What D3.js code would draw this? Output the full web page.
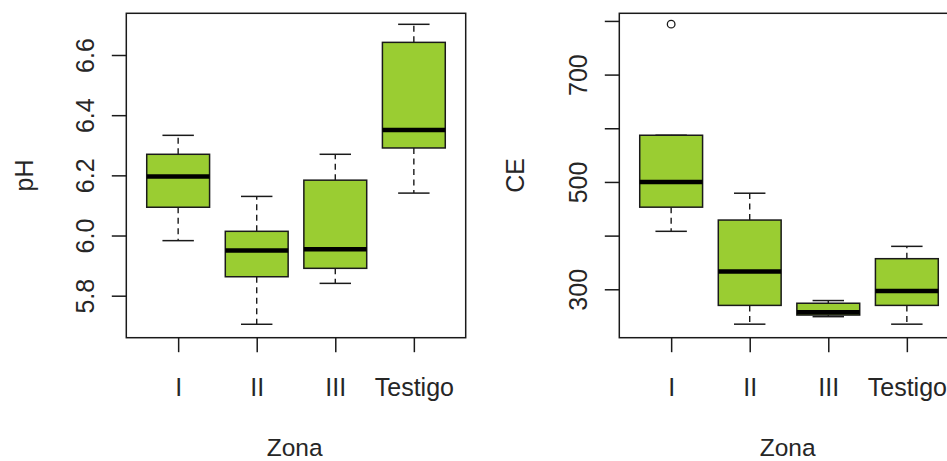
<!DOCTYPE html>
<html>
<head>
<meta charset="utf-8">
<script src="https://cdn.jsdelivr.net/npm/d3@7"></script>
<style>
  html, body { margin: 0; padding: 0; background: #fff; }
  svg { display: block; }
  text { font-family: "Liberation Sans", Arial, sans-serif; fill: #262626; }
</style>
</head>
<body>
<svg id="chart" width="947" height="461"></svg>
<script>
// ---- data ----
const categories = ["I", "II", "III", "Testigo"];

const phLow    = [5.983, 5.705, 5.841, 6.141];
const phQ1     = [6.094, 5.863, 5.891, 6.291];
const phMedian = [6.196, 5.950, 5.954, 6.351];
const phQ3     = [6.270, 6.014, 6.184, 6.642];
const phHigh   = [6.333, 6.130, 6.270, 6.702];
const phOutliers = [[], [], [], []];
const phTicks = [5.8, 6.0, 6.2, 6.4, 6.6];
const phTickLabels = ["5.8", "6.0", "6.2", "6.4", "6.6"];

const ceLow    = [408, 235, 249, 235];
const ceQ1     = [453, 270, 252, 270];
const ceMedian = [500, 333, 257, 297];
const ceQ3     = [587, 429, 274, 357];
const ceHigh   = [587, 479, 279, 380];
const ceOutliers = [[794], [], [], []];
const ceTicks = [300, 400, 500, 600, 700, 800];
const ceTickLabels = ["300", "", "500", "", "700", ""];

const xTitle = "Zona";

// ---- drawing ----
const svg = d3.select("#chart");
svg.append("rect").attr("width", 947).attr("height", 461).attr("fill", "#fff");

const FONT = 25;
const STROKE = "#1a1a1a";
const TEXTC = "#262626";
const FILL = "#9ACD32";

function panel(opt) {
  const g = svg.append("g");
  const x = d3.scalePoint().domain(categories).range([opt.left, opt.right]).padding(0.66);
  const y = d3.scaleLinear().domain(opt.domain).range([opt.bottom, opt.top]);
  const step = x.step();
  const bw = step * 0.8;
  const cap = bw * 0.5;

  const stats = categories.map((c, i) => ({
    c, low: opt.low[i], q1: opt.q1[i], med: opt.med[i], q3: opt.q3[i], high: opt.high[i], out: opt.out[i]
  }));

  const box = g.selectAll("g.box").data(stats).enter().append("g");
  // whiskers (dashed)
  box.append("line")
    .attr("x1", d => x(d.c)).attr("x2", d => x(d.c))
    .attr("y1", d => y(d.q3)).attr("y2", d => y(d.high))
    .attr("stroke", STROKE).attr("stroke-width", 1.4).attr("stroke-dasharray", "6,4.5");
  box.append("line")
    .attr("x1", d => x(d.c)).attr("x2", d => x(d.c))
    .attr("y1", d => y(d.q1)).attr("y2", d => y(d.low))
    .attr("stroke", STROKE).attr("stroke-width", 1.4).attr("stroke-dasharray", "6,4.5");
  // caps
  box.append("line")
    .attr("x1", d => x(d.c) - cap / 2).attr("x2", d => x(d.c) + cap / 2)
    .attr("y1", d => y(d.high)).attr("y2", d => y(d.high))
    .attr("stroke", STROKE).attr("stroke-width", 1.5);
  box.append("line")
    .attr("x1", d => x(d.c) - cap / 2).attr("x2", d => x(d.c) + cap / 2)
    .attr("y1", d => y(d.low)).attr("y2", d => y(d.low))
    .attr("stroke", STROKE).attr("stroke-width", 1.5);
  // box
  box.append("rect")
    .attr("x", d => x(d.c) - bw / 2).attr("width", bw)
    .attr("y", d => y(d.q3)).attr("height", d => y(d.q1) - y(d.q3))
    .attr("fill", FILL).attr("stroke", STROKE).attr("stroke-width", 1.5);
  // median
  box.append("line")
    .attr("x1", d => x(d.c) - bw / 2).attr("x2", d => x(d.c) + bw / 2)
    .attr("y1", d => y(d.med)).attr("y2", d => y(d.med))
    .attr("stroke", "#000").attr("stroke-width", 4.5);
  // outliers
  box.each(function(d) {
    d3.select(this).selectAll("circle").data(d.out).enter().append("circle")
      .attr("cx", x(d.c)).attr("cy", v => y(v)).attr("r", 3.8)
      .attr("fill", "none").attr("stroke", STROKE).attr("stroke-width", 1.3);
  });

  // frame
  g.append("rect")
    .attr("x", opt.left).attr("y", opt.top)
    .attr("width", opt.right - opt.left).attr("height", opt.bottom - opt.top)
    .attr("fill", "none").attr("stroke", STROKE).attr("stroke-width", 1.5);

  // y axis
  const yAxis = d3.axisLeft(y).tickValues(opt.ticks).tickSize(14.5)
    .tickFormat((d, i) => opt.tickLabels[i]);
  const ya = g.append("g").attr("transform", `translate(${opt.left},0)`).call(yAxis);
  ya.attr("font-family", null).attr("font-size", null);
  ya.select(".domain").remove();
  ya.selectAll(".tick line").attr("stroke", STROKE).attr("stroke-width", 1.5);
  ya.selectAll(".tick text")
    .attr("x", null).attr("dy", null)
    .attr("transform", `translate(${-32.5},0) rotate(-90)`)
    .attr("text-anchor", "middle")
    .attr("font-size", FONT).attr("fill", TEXTC);

  // x axis
  const xAxis = d3.axisBottom(x).tickSize(14.5);
  const xa = g.append("g").attr("transform", `translate(0,${opt.bottom})`).call(xAxis);
  xa.attr("font-family", null).attr("font-size", null);
  xa.select(".domain").remove();
  xa.selectAll(".tick line").attr("stroke", STROKE).attr("stroke-width", 1.5);
  xa.selectAll(".tick text")
    .attr("y", 58.3).attr("dy", null)
    .attr("font-size", FONT).attr("fill", TEXTC);

  // titles
  g.append("text")
    .attr("x", (opt.left + opt.right) / 2 - 1.3).attr("y", 455.5)
    .attr("text-anchor", "middle").attr("font-size", 24.5).text(xTitle);
  g.append("text")
    .attr("transform", `translate(${opt.ylabX},${(opt.top + opt.bottom) / 2}) rotate(-90)`)
    .attr("text-anchor", "middle").attr("font-size", FONT).text(opt.ylab);
}

panel({
  left: 126.3, right: 465.7, top: 13.3, bottom: 337.7,
  domain: [5.6604, 6.7386],
  low: phLow, q1: phQ1, med: phMedian, q3: phQ3, high: phHigh, out: phOutliers,
  ticks: phTicks, tickLabels: phTickLabels,
  ylab: "pH", ylabX: 33
});

panel({
  left: 619.3, right: 958.7, top: 13.3, bottom: 337.7,
  domain: [209.8, 814.2],
  low: ceLow, q1: ceQ1, med: ceMedian, q3: ceQ3, high: ceHigh, out: ceOutliers,
  ticks: ceTicks, tickLabels: ceTickLabels,
  ylab: "CE", ylabX: 524
});
</script>
</body>
</html>
